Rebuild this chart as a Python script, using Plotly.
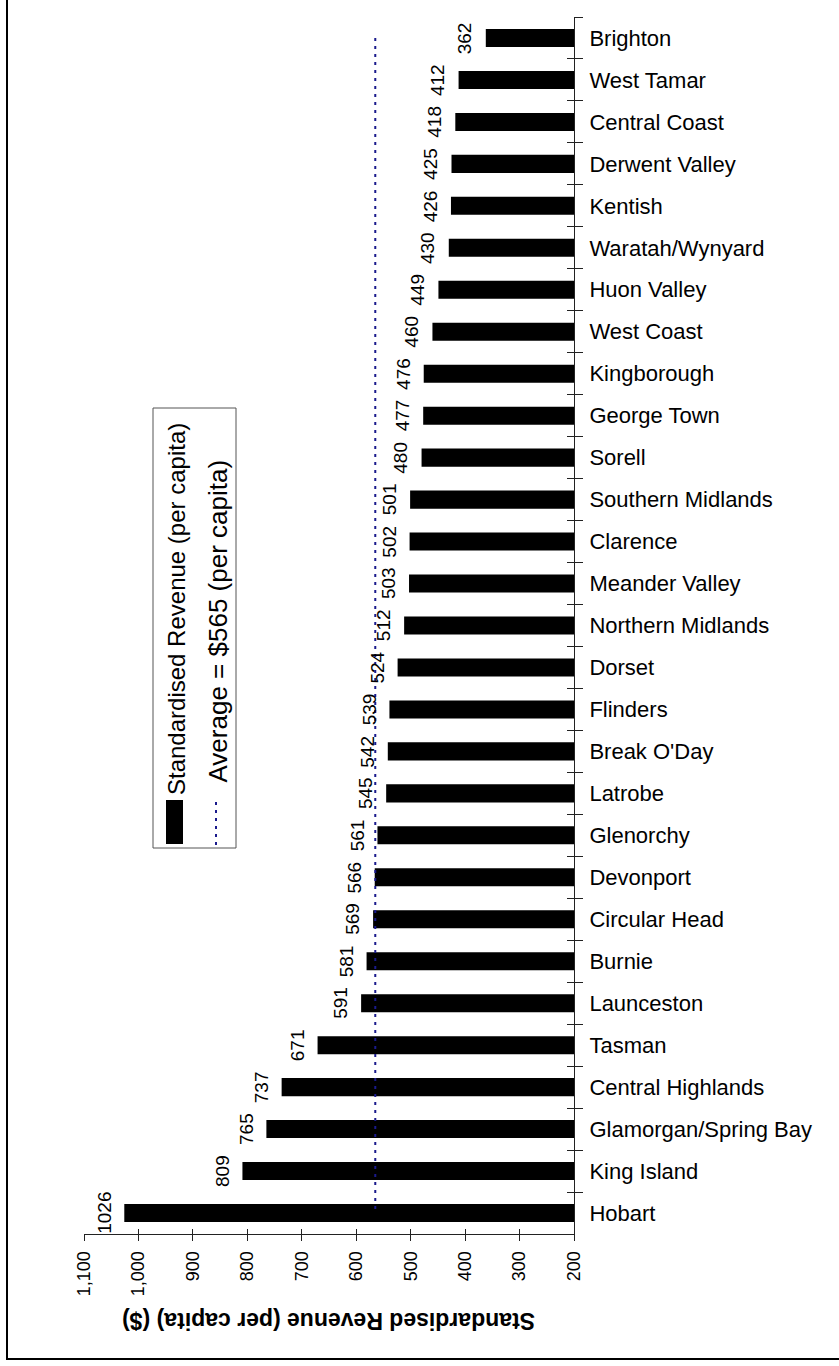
import plotly.graph_objects as go

# Tasmanian councils, top to bottom, with standardised revenue per capita ($)
councils = [
    "Brighton", "West Tamar", "Central Coast", "Derwent Valley", "Kentish",
    "Waratah/Wynyard", "Huon Valley", "West Coast", "Kingborough", "George Town",
    "Sorell", "Southern Midlands", "Clarence", "Meander Valley", "Northern Midlands",
    "Dorset", "Flinders", "Break O'Day", "Latrobe", "Glenorchy",
    "Devonport", "Circular Head", "Burnie", "Launceston", "Tasman",
    "Central Highlands", "Glamorgan/Spring Bay", "King Island", "Hobart",
]
revenue = [
    362, 412, 418, 425, 426,
    430, 449, 460, 476, 477,
    480, 501, 502, 503, 512,
    524, 539, 542, 545, 561,
    566, 569, 581, 591, 671,
    737, 765, 809, 1026,
]
average = 565
x_ticks = [200, 300, 400, 500, 600, 700, 800, 900, 1000, 1100]

series_name = "Standardised Revenue (per capita)"
average_name = f"Average = ${average} (per capita)"
axis_title = "Standardised Revenue (per capita) ($)"

FONT = "Liberation Sans, Arial, sans-serif"
W, H = 839, 1366
L, R, T, B = 84, 574, 17, 1234  # plot area in pixels
NAVY = "#1a1a8c"


def px(x):
    return (x - L) / (R - L)


def py(y):
    return (B - y) / (B - T)


fig = go.Figure()

fig.add_trace(go.Bar(
    x=revenue, y=councils, orientation="h",
    marker=dict(color="black", line=dict(width=0)),
    width=0.43, showlegend=False, hoverinfo="x+y",
))

fig.add_trace(go.Scatter(
    x=[average] * len(councils), y=councils, mode="lines",
    line=dict(color=NAVY, width=2, dash="3px,5px"),
    xaxis="x2", yaxis="y2", showlegend=False,
))

cat_axis = dict(
    type="category", categoryorder="array", categoryarray=councils,
    range=[len(councils) - 0.5, -0.5], tickson="boundaries",
    showgrid=False, zeroline=False,
)
val_axis = dict(range=[1100, 200], showgrid=False, zeroline=False)

fig.update_layout(
    width=W, height=H,
    margin=dict(l=L, r=W - R, t=T, b=H - B),
    paper_bgcolor="white", plot_bgcolor="white",
    font=dict(family=FONT, color="black"),
    bargap=0.57,
    xaxis=dict(
        **val_axis, tickvals=x_ticks, tickformat=",", tickangle=-90,
        ticks="outside", ticklen=6, tickcolor="#222", tickwidth=1,
        showline=True, linecolor="#222", linewidth=1,
        tickfont=dict(size=18, family=FONT), ticklabelstandoff=3,
    ),
    xaxis2=dict(
        **val_axis, overlaying="x", anchor="y", tickvals=x_ticks,
        ticks="inside", ticklen=5, tickcolor="#222", tickwidth=1,
        showticklabels=False, showline=False,
    ),
    yaxis=dict(
        **cat_axis, side="right", ticks="outside", ticklen=8,
        tickcolor="#222", tickwidth=1, showline=True, linecolor="#222",
        linewidth=1, tickfont=dict(size=22, family=FONT), ticklabelstandoff=10,
    ),
    yaxis2=dict(
        **cat_axis, overlaying="y", side="right", anchor="x",
        ticks="inside", ticklen=7, tickcolor="#222", tickwidth=1,
        showticklabels=False, showline=False,
    ),
)

annotations = []
for name, val in zip(councils, revenue):
    annotations.append(dict(
        x=val, y=name, xref="x", yref="y", text=str(val), showarrow=False,
        textangle=-90, xanchor="right", yanchor="middle", xshift=-8,
        font=dict(size=19, family=FONT, color="black"),
    ))

# value-axis title, upside down under the tick labels
annotations.append(dict(
    x=0.5, y=py(1321), xref="paper", yref="paper", text=f"<b>{axis_title}</b>",
    showarrow=False, textangle=180, xanchor="center", yanchor="middle",
    font=dict(size=23, family=FONT, color="black"),
))

# hand-built legend with vertical text
annotations.append(dict(
    x=px(176), y=py(797), xref="paper", yref="paper", text=series_name,
    showarrow=False, textangle=-90, xanchor="center", yanchor="bottom",
    font=dict(size=24, family=FONT, color="black"),
))
annotations.append(dict(
    x=px(217), y=py(785), xref="paper", yref="paper", text=average_name,
    showarrow=False, textangle=-90, xanchor="center", yanchor="bottom",
    font=dict(size=26, family=FONT, color="black"),
))

shapes = [
    # legend frame
    dict(type="rect", xref="paper", yref="paper",
         x0=px(153), x1=px(236), y0=py(408), y1=py(848),
         line=dict(color="#555", width=1), fillcolor="white", layer="below"),
    # legend bar swatch
    dict(type="rect", xref="paper", yref="paper",
         x0=px(166), x1=px(183), y0=py(800), y1=py(844),
         line=dict(width=0), fillcolor="black"),
    # legend average-line swatch
    dict(type="line", xref="paper", yref="paper",
         x0=px(216), x1=px(216), y0=py(802), y1=py(846),
         line=dict(color=NAVY, width=2, dash="3px,5px")),
    # page frame: left and bottom edges
    dict(type="line", xref="paper", yref="paper",
         x0=px(7), x1=px(7), y0=py(0), y1=py(1360),
         line=dict(color="black", width=2)),
    dict(type="line", xref="paper", yref="paper",
         x0=px(6), x1=px(839), y0=py(1359), y1=py(1359),
         line=dict(color="black", width=2)),
]

fig.update_layout(annotations=annotations, shapes=shapes)

fig.write_html("out.html")
